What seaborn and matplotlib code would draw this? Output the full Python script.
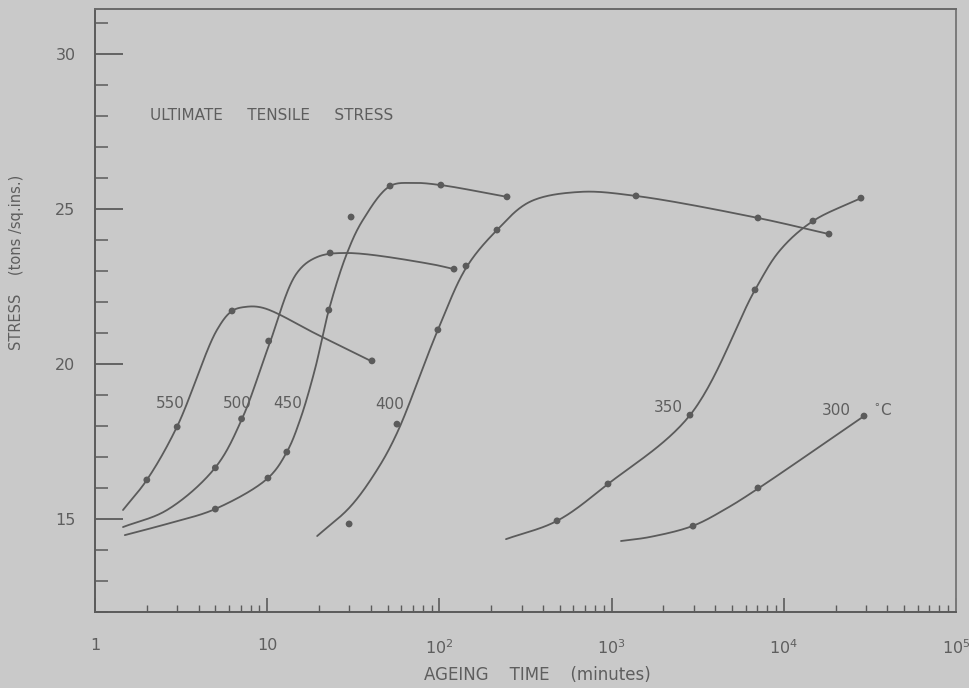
import numpy as np
import pandas as pd
import matplotlib
matplotlib.use("Agg")
import matplotlib.pyplot as plt
from matplotlib.ticker import LogLocator, FixedLocator, NullFormatter, FixedFormatter, MultipleLocator
import seaborn as sns

# ---- data: ageing time (minutes) vs ultimate tensile stress (tons / sq. in.) ----
temps = ["550", "500", "450", "400", "350", "300"]

# measured points
m550_t = [2.0, 3.0, 6.25, 40.6]
m550_s = [16.26, 17.97, 21.71, 20.10]
m500_t = [5.0, 7.1, 10.2, 23.2, 121.6]
m500_s = [16.65, 18.23, 20.74, 23.58, 23.06]
m450_t = [5.0, 10.1, 13.0, 22.8, 30.7, 51.7, 102, 247]
m450_s = [15.32, 16.32, 17.16, 21.74, 24.74, 25.74, 25.77, 25.39]
m400_t = [29.9, 56.7, 98, 142.7, 216, 1386, 7080, 18300]
m400_s = [14.84, 18.06, 21.10, 23.16, 24.32, 25.42, 24.71, 24.19]
m350_t = [482, 953, 2853, 6806, 14770, 28070]
m350_s = [14.94, 16.13, 18.35, 22.39, 24.61, 25.35]
m300_t = [2970, 7080, 29230]
m300_s = [14.77, 16.0, 18.32]

# hand-faired curve knots for each temperature
c550_t = [1.454, 2.0, 2.99, 5.11, 6.25, 7.44, 9.46, 19.7, 40.6]
c550_s = [15.29, 16.26, 17.97, 21.10, 21.71, 21.84, 21.81, 20.94, 20.08]
c500_t = [1.454, 2.62, 4.98, 7.14, 10.2, 14.9, 19.5, 29.1, 88.0, 121.6]
c500_s = [14.74, 15.29, 16.65, 18.23, 20.58, 22.94, 23.45, 23.58, 23.23, 23.06]
c450_t = [1.49, 2.73, 4.98, 10.1, 13.0, 15.5, 18.9, 22.8, 29.1, 36.0, 51.7, 70.3, 102, 247]
c450_s = [14.48, 14.87, 15.32, 16.32, 17.16, 18.19, 19.81, 21.74, 23.58, 24.65, 25.74, 25.84, 25.77, 25.39]
c400_t = [19.5, 30.3, 43.4, 56.7, 98, 144, 216, 335, 653, 1386, 7080, 18300]
c400_s = [14.45, 15.39, 16.58, 17.77, 21.10, 23.13, 24.32, 25.23, 25.55, 25.42, 24.71, 24.19]
c350_t = [243.6, 482, 953, 2853, 6806, 9550, 14770, 28070]
c350_s = [14.35, 14.94, 16.13, 18.35, 22.39, 23.68, 24.61, 25.35]
c300_t = [1134, 1671, 2970, 4680, 7080, 29230]
c300_s = [14.29, 14.42, 14.78, 15.35, 15.98, 18.32]

# curve label anchors (time, stress)
label_t = [2.73, 6.69, 13.2, 51.7, 2130, 20200]
label_s = [18.74, 18.74, 18.74, 18.68, 18.6, 18.5]

x_ticks = [1, 10, 100, 1000, 10000, 100000]
x_ticklabels = ["1", "10", "10$^2$", "10$^3$", "10$^4$", "10$^5$"]
y_ticks = [15, 20, 25, 30]


def faired(t, s, n=30, aspect=5.55):
    """Centripetal Catmull-Rom through the knots, in log-time space."""
    P = np.column_stack([np.log10(t) * aspect, np.asarray(s, float)])
    P = np.vstack([2 * P[0] - P[1], P, 2 * P[-1] - P[-2]])
    out = []
    for i in range(1, len(P) - 2):
        p0, p1, p2, p3 = P[i - 1], P[i], P[i + 1], P[i + 2]
        t0 = 0.0
        t1 = t0 + np.linalg.norm(p1 - p0) ** 0.5
        t2 = t1 + np.linalg.norm(p2 - p1) ** 0.5
        t3 = t2 + np.linalg.norm(p3 - p2) ** 0.5
        tt = np.linspace(t1, t2, n, endpoint=False)[:, None]
        a1 = (t1 - tt) / (t1 - t0) * p0 + (tt - t0) / (t1 - t0) * p1
        a2 = (t2 - tt) / (t2 - t1) * p1 + (tt - t1) / (t2 - t1) * p2
        a3 = (t3 - tt) / (t3 - t2) * p2 + (tt - t2) / (t3 - t2) * p3
        b1 = (t2 - tt) / (t2 - t0) * a1 + (tt - t0) / (t2 - t0) * a2
        b2 = (t3 - tt) / (t3 - t1) * a2 + (tt - t1) / (t3 - t1) * a3
        c = (t2 - tt) / (t2 - t1) * b1 + (tt - t1) / (t2 - t1) * b2
        out.append(c)
    out.append(P[-2][None])
    C = np.vstack(out)
    return 10 ** (C[:, 0] / aspect), C[:, 1]


curves = [(c550_t, c550_s), (c500_t, c500_s), (c450_t, c450_s),
          (c400_t, c400_s), (c350_t, c350_s), (c300_t, c300_s)]
points = [(m550_t, m550_s), (m500_t, m500_s), (m450_t, m450_s),
          (m400_t, m400_s), (m350_t, m350_s), (m300_t, m300_s)]

paper = "#c9c9c9"
ink = "#5b5b5b"
text_ink = "#5e5e5e"

sns.set_theme(style="ticks")
plt.rcParams["font.family"] = ["DejaVu Sans"]

fig = plt.figure(figsize=(9.69, 6.88), dpi=100, facecolor=paper)
ax = fig.add_axes([95 / 969, 1 - 612 / 688, 861 / 969, 603 / 688])
ax.set_facecolor(paper)

for name, (ct, cs), (mt, ms) in zip(temps, curves, points):
    fx, fy = faired(ct, cs)
    df_line = pd.DataFrame({"time": fx, "stress": fy})
    sns.lineplot(data=df_line, x="time", y="stress", sort=False, estimator=None,
                 color=ink, linewidth=1.3, ax=ax)
    df_pts = pd.DataFrame({"time": mt, "stress": ms})
    sns.scatterplot(data=df_pts, x="time", y="stress", color=ink, s=24,
                    edgecolor="none", ax=ax, zorder=3)

ax.set_xscale("log")
ax.set_xlim(1, 1e5)
ax.set_ylim(12, 31.45)

# curve labels
for name, lt, ls in zip(temps, label_t, label_s):
    ax.text(lt, ls, name, ha="center", va="center", fontsize=11, color=text_ink)
ax.text(37300, 18.5, "$^{\\circ}$C", ha="center", va="center", fontsize=11, color=text_ink)

ax.text(0.064, 0.8226, "ULTIMATE     TENSILE     STRESS", transform=ax.transAxes,
        ha="left", va="center", fontsize=11, color=text_ink)

# axes styling
for sp in ax.spines.values():
    sp.set_color(ink)
    sp.set_linewidth(1.4)
ax.spines["right"].set_color("#7a7a7a")
ax.spines["top"].set_color("#6a6a6a")

ax.xaxis.set_major_locator(FixedLocator(x_ticks))
ax.xaxis.set_major_formatter(FixedFormatter(x_ticklabels))
ax.xaxis.set_minor_locator(LogLocator(base=10, subs=np.arange(2, 10), numticks=20))
ax.xaxis.set_minor_formatter(NullFormatter())
ax.yaxis.set_major_locator(FixedLocator(y_ticks))
ax.yaxis.set_minor_locator(MultipleLocator(1))

ax.tick_params(axis="x", which="major", direction="in", length=10, width=1.2,
               color=ink, pad=19, labelsize=11.5, labelcolor=text_ink)
ax.tick_params(axis="x", which="minor", direction="in", length=5, width=1.0, color=ink)
ax.tick_params(axis="y", which="major", direction="in", length=20, width=1.3,
               color=ink, pad=14, labelsize=11.5, labelcolor=text_ink)
ax.tick_params(axis="y", which="minor", direction="in", length=9, width=1.1, color=ink)

ax.set_xlabel("AGEING    TIME    (minutes)", fontsize=12, color=text_ink)
ax.set_ylabel("STRESS    (tons /sq.ins.)", fontsize=10.5, color=text_ink)
ax.xaxis.set_label_coords(0.514, -0.089)
ax.yaxis.set_label_coords(-0.0825, 0.58)

fig.savefig("out.png", dpi=100, facecolor=paper)
